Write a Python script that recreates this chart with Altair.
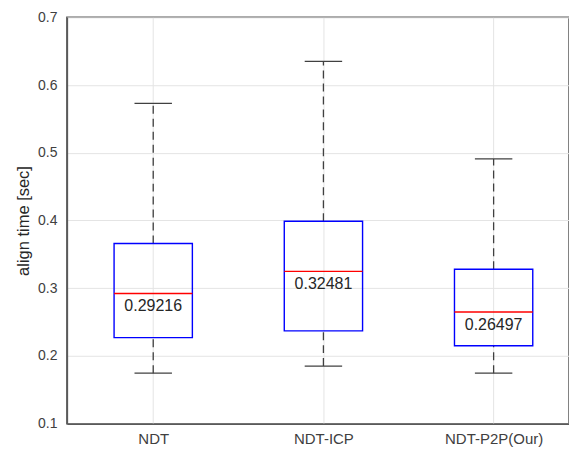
import altair as alt
import pandas as pd

# Box-plot summary of alignment time per method
methods = ["NDT", "NDT-ICP", "NDT-P2P(Our)"]
positions = [1, 2, 3]
whisker_low = [0.1745, 0.185, 0.1745]
q1 = [0.227, 0.237, 0.215]
median = [0.29216, 0.32481, 0.26497]
q3 = [0.366, 0.399, 0.328]
whisker_high = [0.573, 0.635, 0.491]
y_ticks = [0.1, 0.2, 0.3, 0.4, 0.5, 0.6, 0.7]

df = pd.DataFrame({
    "method": methods,
    "pos": positions,
    "lo": whisker_low,
    "q1": q1,
    "med": median,
    "q3": q3,
    "hi": whisker_high,
})

FONT = "Liberation Sans"
BOX_HALF = 0.23
CAP_HALF = 0.11

label_expr = ("datum.value == 1 ? 'NDT' : datum.value == 2 ? 'NDT-ICP' : "
              "datum.value == 3 ? 'NDT-P2P(Our)' : ''")

x_scale = alt.Scale(domain=[0.4927, 3.4429], nice=False, zero=False)
y_scale = alt.Scale(domain=[0.1, 0.7], nice=False, zero=False)

x_axis = alt.Axis(
    values=positions, labelExpr=label_expr, title=None, grid=True,
    gridColor="#e4e4e4", gridWidth=1, ticks=False, domainColor="#5a5a5a",
    domainWidth=1.5, labelFont=FONT, labelFontSize=15, labelColor="#404040",
    labelPadding=8,
)
y_axis = alt.Axis(
    values=y_ticks, format=".1f", title="align time [sec]", grid=True,
    gridColor="#e4e4e4", gridWidth=1, ticks=False, domainColor="#5a5a5a",
    domainWidth=1.5, labelFont=FONT, labelFontSize=14, labelColor="#404040",
    labelPadding=10, titleFont=FONT, titleFontSize=16.5, titleFontWeight="normal",
    titleColor="#262626", titlePadding=6,
)

base = alt.Chart(df).transform_calculate(
    bl=f"datum.pos - {BOX_HALF}",
    br=f"datum.pos + {BOX_HALF}",
    cl=f"datum.pos - {CAP_HALF}",
    cr=f"datum.pos + {CAP_HALF}",
)

# invisible layer carrying the axes and grid
frame = base.mark_point(opacity=0).encode(
    x=alt.X("pos:Q", scale=x_scale, axis=x_axis),
    y=alt.Y("med:Q", scale=y_scale, axis=y_axis),
)

dash = [8, 5]
upper_whisker = base.mark_rule(color="#404040", strokeWidth=1.3, strokeDash=dash).encode(
    x=alt.X("pos:Q", scale=x_scale), y=alt.Y("q3:Q", scale=y_scale), y2="hi:Q"
)
lower_whisker = base.mark_rule(color="#404040", strokeWidth=1.3, strokeDash=dash).encode(
    x=alt.X("pos:Q", scale=x_scale), y=alt.Y("lo:Q", scale=y_scale), y2="q1:Q"
)
upper_cap = base.mark_rule(color="#404040", strokeWidth=1.3).encode(
    x=alt.X("cl:Q", scale=x_scale), x2="cr:Q", y=alt.Y("hi:Q", scale=y_scale)
)
lower_cap = base.mark_rule(color="#404040", strokeWidth=1.3).encode(
    x=alt.X("cl:Q", scale=x_scale), x2="cr:Q", y=alt.Y("lo:Q", scale=y_scale)
)
boxes = base.mark_rect(fillOpacity=0, stroke="#0000ff", strokeWidth=1.4).encode(
    x=alt.X("bl:Q", scale=x_scale), x2="br:Q",
    y=alt.Y("q1:Q", scale=y_scale), y2="q3:Q",
)
medians = base.mark_rule(color="#ff0000", strokeWidth=1.4).encode(
    x=alt.X("bl:Q", scale=x_scale), x2="br:Q", y=alt.Y("med:Q", scale=y_scale)
)
labels = base.mark_text(
    dy=13, font=FONT, fontSize=16, color="#262626", baseline="middle", align="center"
).encode(
    x=alt.X("pos:Q", scale=x_scale),
    y=alt.Y("med:Q", scale=y_scale),
    text=alt.Text("med:Q", format=".5f"),
)

chart = alt.layer(
    frame, upper_whisker, lower_whisker, upper_cap, lower_cap, boxes, medians, labels
).properties(
    width=503,
    height=407,
    autosize=alt.AutoSizeParams(type="none"),
    padding={"left": 67, "top": 17, "right": 0, "bottom": 26},
    background="white",
).configure_view(
    stroke="#5a5a5a", strokeWidth=1.5
)

chart.save("out.html", embed_options={"renderer": "svg", "actions": False})
